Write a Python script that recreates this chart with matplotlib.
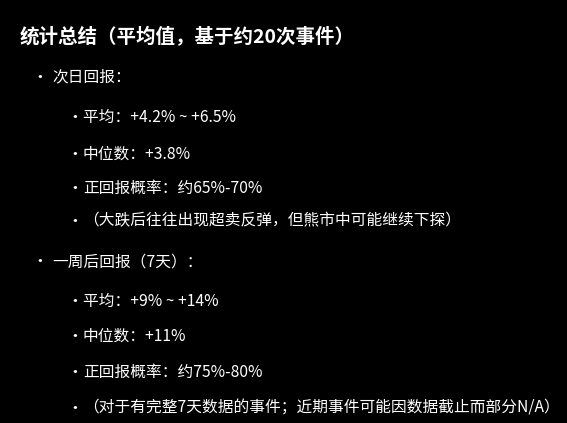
import matplotlib
matplotlib.use("Agg")
import matplotlib.pyplot as plt

plt.rcParams['font.family'] = ['Noto Sans CJK SC', 'DejaVu Sans']

W, H = 567, 423

title = "统计总结（平均值，基于约20次事件）"
sections = ["次日回报：", "一周后回报（7天）："]
items = [
    ["平均：+4.2% ~ +6.5%", "中位数：+3.8%", "正回报概率：约65%-70%",
     "（大跌后往往出现超卖反弹，但熊市中可能继续下探）"],
    ["平均：+9% ~ +14%", "中位数：+11%", "正回报概率：约75%-80%",
     "（对于有完整7天数据的事件；近期事件可能因数据截止而部分N/A）"],
]
section_y = [77, 262]
item_y = [[117, 154, 188, 221], [301, 336, 372, 408]]

fig = plt.figure(figsize=(W / 100, H / 100), dpi=100, facecolor="black")


def put(x, y, s, **kw):
    fig.text(x / W, 1 - y / H, s, color="white", va="center", ha="left", **kw)


put(20, 37, title, fontsize=14, fontweight="bold")
for sec, sy, its, iys in zip(sections, section_y, items, item_y):
    put(31, sy, "•", fontsize=12)
    put(52, sy, sec, fontsize=11.3)
    for it, iy in zip(its, iys):
        put(66, iy, "•", fontsize=12)
        put(83, iy, it, fontsize=11.3)

fig.savefig("out.png", dpi=100, facecolor="black")
